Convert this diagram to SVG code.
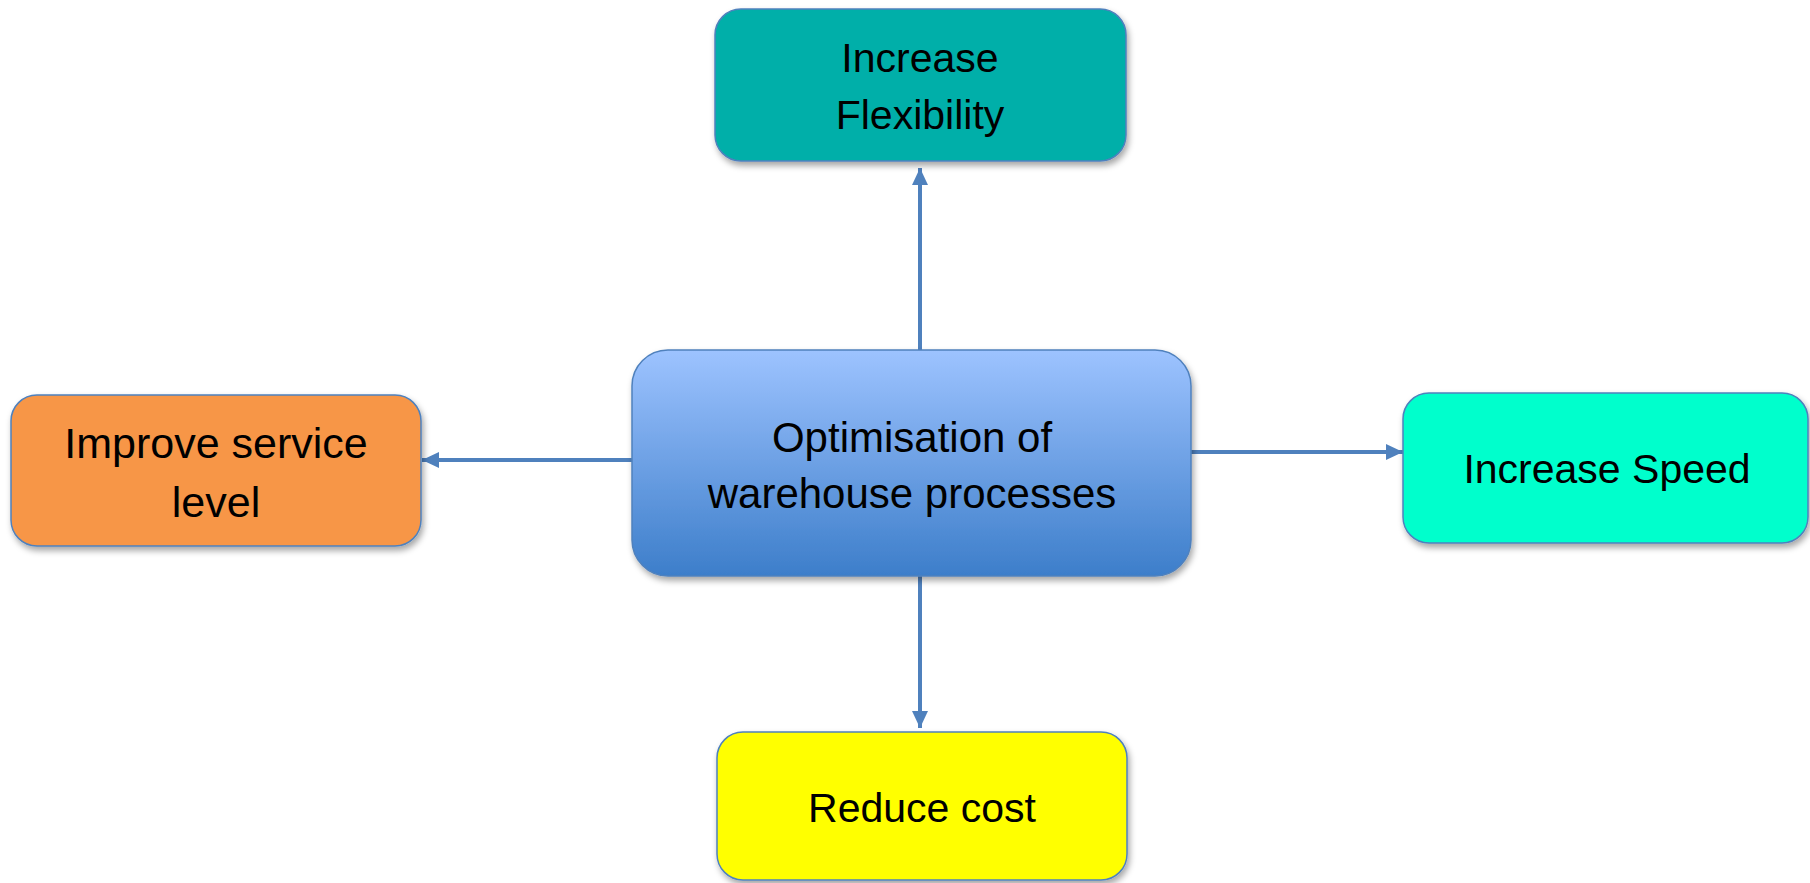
<svg xmlns="http://www.w3.org/2000/svg" width="1810" height="883" viewBox="0 0 1810 883">
<defs>
<linearGradient id="gc" x1="0" y1="0" x2="0" y2="1">
<stop offset="0" stop-color="#9DC3FF"/>
<stop offset="1" stop-color="#3D7ECA"/>
</linearGradient>
<filter id="sh" x="-10%" y="-10%" width="125%" height="135%">
<feDropShadow dx="2" dy="4" stdDeviation="3" flood-color="#000" flood-opacity="0.35"/>
</filter>
<marker id="ah" markerUnits="userSpaceOnUse" markerWidth="20" markerHeight="20" viewBox="0 0 20 20" refX="17" refY="10" orient="auto">
<path d="M0,2 L17,10 L0,18 Z" fill="#4F81BD"/>
</marker>
<style>
.box{stroke:#4F81BD;stroke-width:1.5;filter:url(#sh)}
.t{font-family:"Liberation Sans",Arial,sans-serif;font-size:41px;fill:#000;text-anchor:middle}
.tc{font-size:42px}
.tl{font-size:43px}
.c{stroke:#4F81BD;stroke-width:4;fill:none;marker-end:url(#ah)}
</style>
</defs>
<rect width="1810" height="883" fill="#fff"/>
<g id="connectors">
<line class="c" x1="920" y1="350" x2="920" y2="168"/>
<line class="c" x1="632" y1="460" x2="422" y2="460"/>
<line class="c" x1="1191" y1="452" x2="1403" y2="452"/>
<line class="c" x1="920" y1="576" x2="920" y2="728"/>
</g>
<g id="center">
<rect class="box" x="632" y="350" width="559" height="226" rx="36" fill="url(#gc)"/>
<text class="t tc" x="912" y="452">Optimisation of</text>
<text class="t tc" x="912" y="508">warehouse processes</text>
</g>
<g id="flexibility">
<rect class="box" x="715" y="9" width="411" height="152" rx="26" fill="#00AFA9"/>
<text class="t" x="920" y="72">Increase</text>
<text class="t" x="920" y="129">Flexibility</text>
</g>
<g id="service">
<rect class="box" x="11" y="395" width="410" height="151" rx="26" fill="#F79646"/>
<text class="t tl" x="216" y="458">Improve service</text>
<text class="t tl" x="216" y="517">level</text>
</g>
<g id="speed">
<rect class="box" x="1403" y="393" width="405" height="150" rx="26" fill="#00FFCC"/>
<text class="t" x="1607" y="483">Increase Speed</text>
</g>
<g id="cost">
<rect class="box" x="717" y="732" width="410" height="148" rx="26" fill="#FFFF00"/>
<text class="t" x="922" y="822">Reduce cost</text>
</g>
</svg>
